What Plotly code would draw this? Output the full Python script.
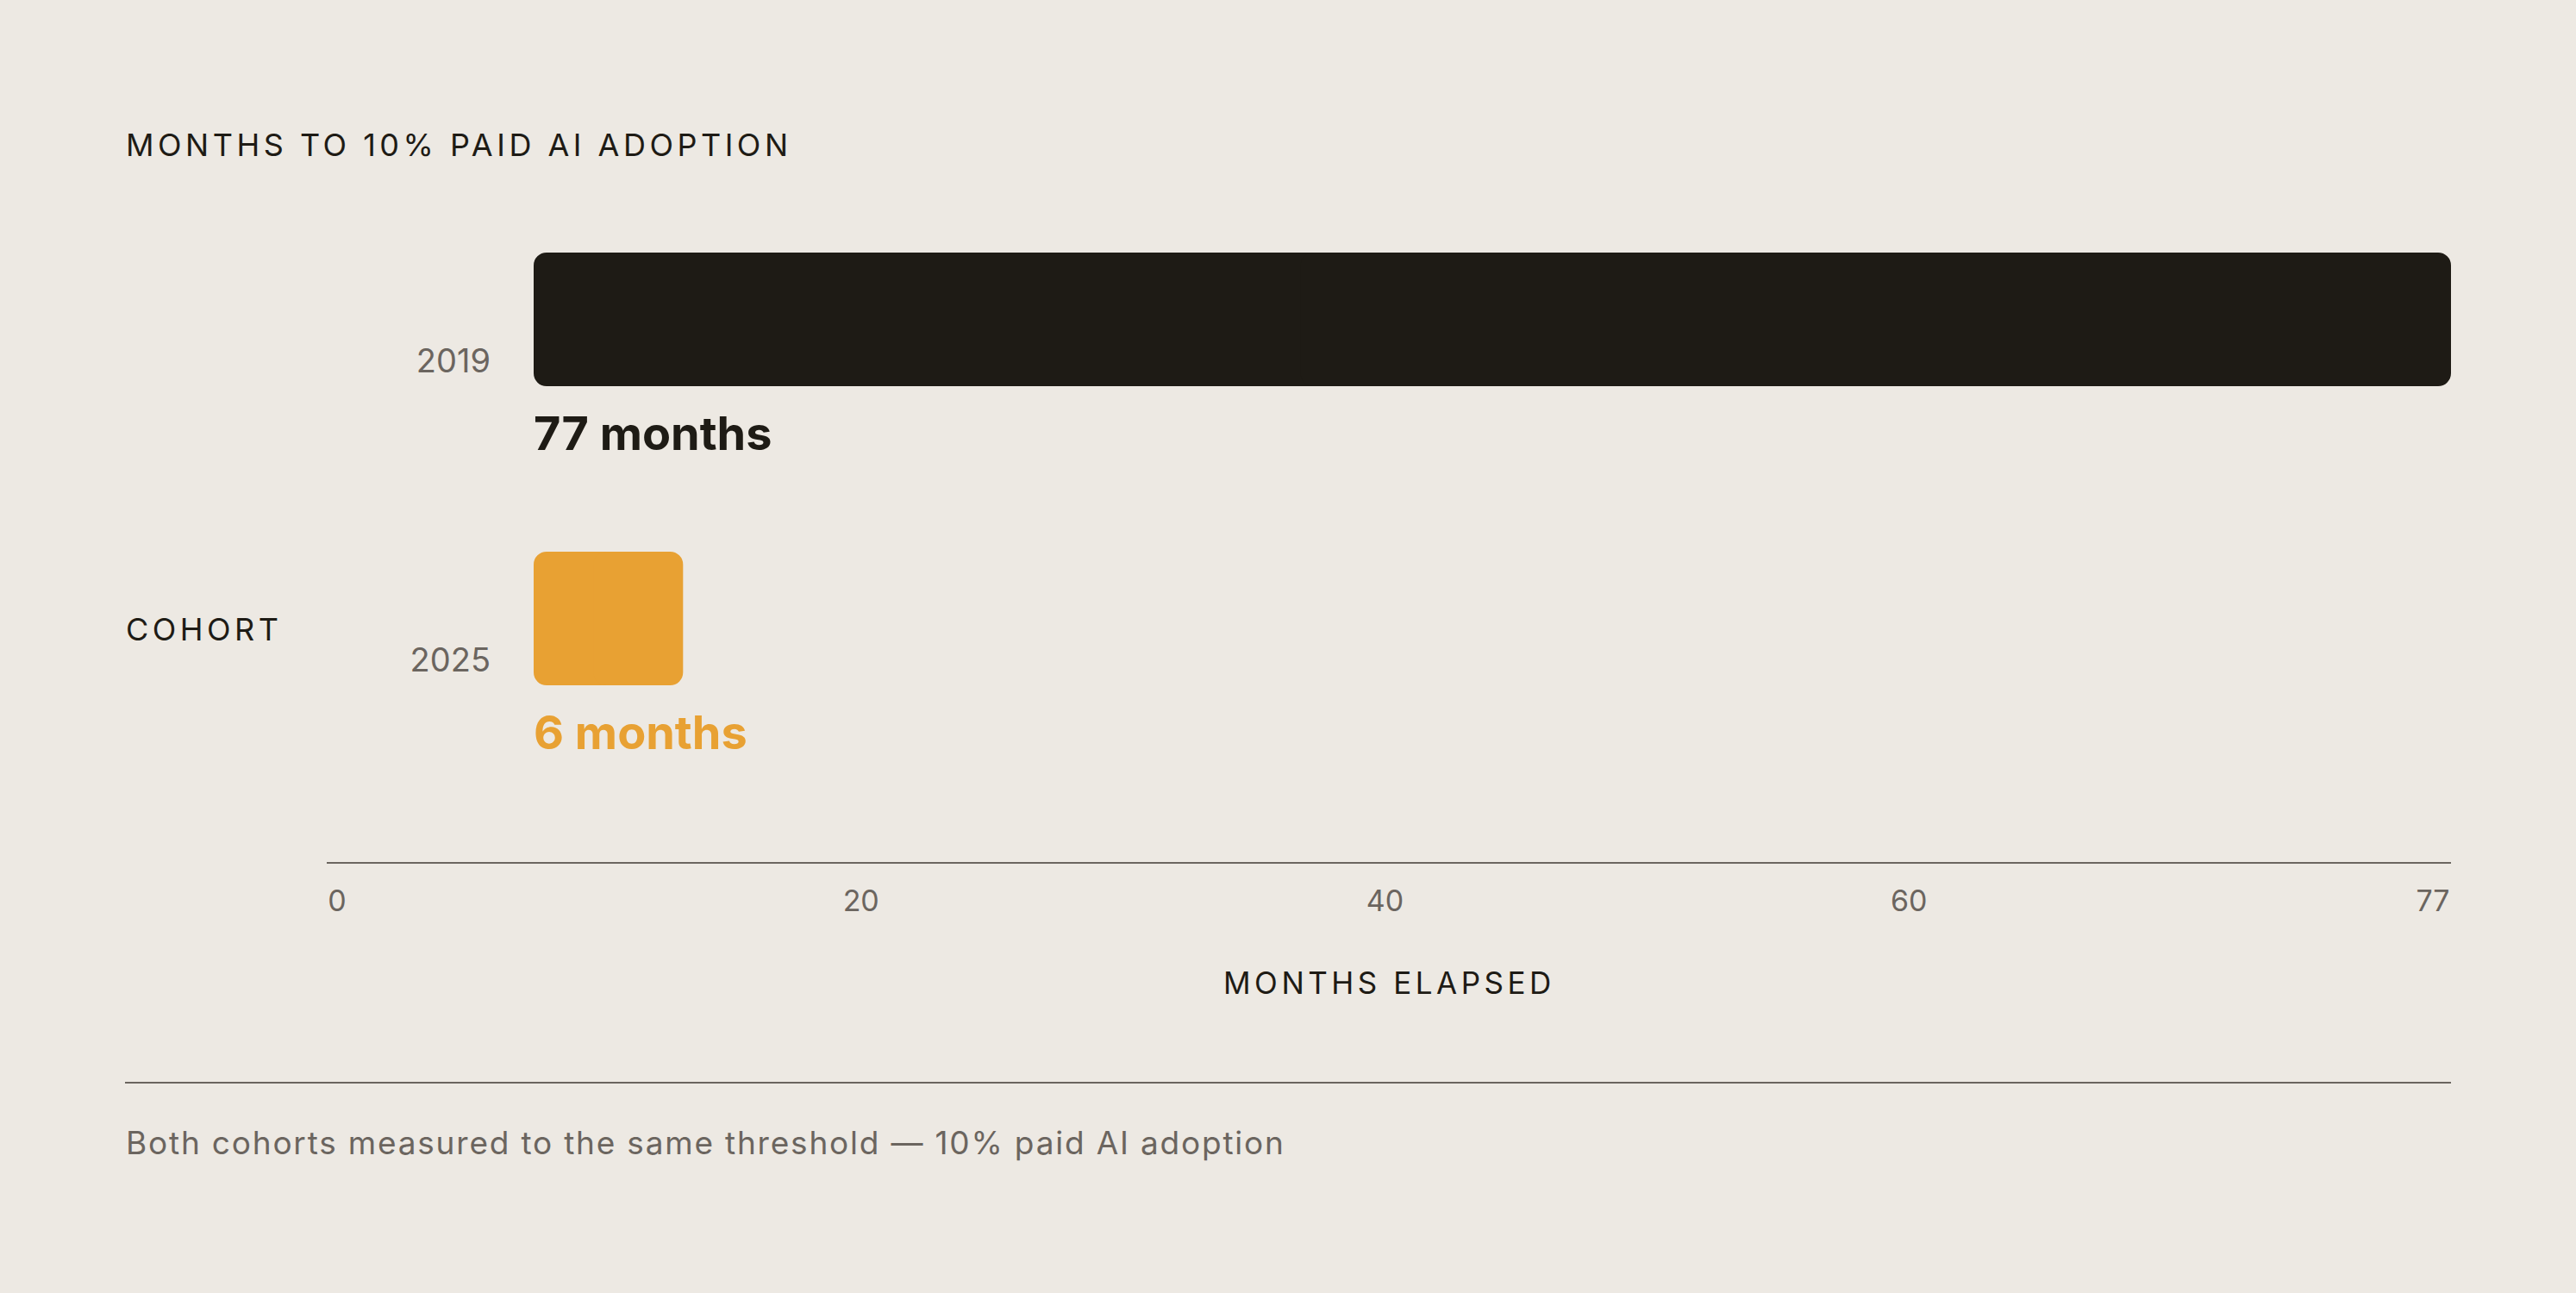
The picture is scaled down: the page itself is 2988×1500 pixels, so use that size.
import plotly.graph_objects as go

# data
cohorts = ["2019", "2025"]
months = [77, 6]
bar_colors = ["#1e1b15", "#e8a133"]
axis_ticks = ["0", "20", "40", "60", "77"]

title_text = "MONTHS TO 10% PAID AI ADOPTION"
y_title = "COHORT"
x_title = "MONTHS ELAPSED"
footnote = "Both cohorts measured to the same threshold \u2014 10% paid AI adoption"

W, H = 2988, 1500
BG = "#ede9e3"
INK = "#1e1b15"
GREY = "#6b655f"
FONT = "Inter, 'DejaVu Sans', sans-serif"


def px_x(p):
    return p / W


def px_y(p):
    return 1 - p / H


def spaced(text, ls):
    return f'<span style="letter-spacing:{ls}px">{text}</span>'


fig = go.Figure()

# each bar is drawn as two overlapping halves so both ends get rounded corners
left_part = [m * 0.6 for m in months]
right_part = [m * 0.4 for m in months]
fig.add_trace(go.Bar(
    x=[-v for v in left_part], base=left_part, y=cohorts,
    orientation="h", width=0.447,
    marker=dict(color=bar_colors, cornerradius=15, line=dict(width=0)),
    hoverinfo="skip", showlegend=False,
))
fig.add_trace(go.Bar(
    x=[m - r for m, r in zip(months, right_part)], base=right_part, y=cohorts,
    orientation="h", width=0.447,
    marker=dict(color=bar_colors, cornerradius=15, line=dict(width=0)),
    hoverinfo="skip", showlegend=False,
))

# value labels under each bar (category axis -> annotate by index)
for i, (m, col) in enumerate(zip(months, bar_colors)):
    fig.add_annotation(
        x=0, y=i, xref="x", yref="y",
        text=f"<b>{m} months</b>",
        showarrow=False, xanchor="left", yanchor="middle",
        yshift=-132, xshift=-2,
        font=dict(family=FONT, size=54, color=col),
    )

# scale labels are spread evenly along the axis line
tick_pos = list(range(len(axis_ticks)))
fig.add_trace(go.Scatter(
    x=tick_pos, y=[0] * len(tick_pos), xaxis="x2", yaxis="y2",
    mode="markers", marker=dict(opacity=0), hoverinfo="skip", showlegend=False,
))

fig.update_layout(
    width=W, height=H,
    margin=dict(l=0, r=0, t=0, b=0),
    paper_bgcolor=BG, plot_bgcolor="rgba(0,0,0,0)",
    font=dict(family=FONT, color=GREY),
    barmode="overlay",
    xaxis=dict(
        domain=[px_x(619), px_x(2843)], range=[0, 77],
        showgrid=False, zeroline=False, showline=False, showticklabels=False,
        fixedrange=True,
    ),
    yaxis=dict(
        domain=[px_y(1000), px_y(197)], range=[1.814, -0.5],
        type="category",
        showgrid=False, zeroline=False, showline=False,
        tickfont=dict(family=FONT, size=38, color=GREY),
        ticklabelstandoff=49, ticklabelshift=-48,
        fixedrange=True,
    ),
    xaxis2=dict(
        domain=[px_x(379), px_x(2843)], range=[-0.0197, 4.0346],
        anchor="y2",
        tickvals=tick_pos, ticktext=axis_ticks,
        tickfont=dict(family=FONT, size=34, color=GREY),
        showgrid=False, zeroline=False,
        showline=True, linecolor=GREY, linewidth=2,
        ticks="", ticklabelstandoff=14,
        fixedrange=True,
    ),
    yaxis2=dict(
        domain=[px_y(1000), px_y(996)], range=[0, 1],
        anchor="x2",
        visible=False, fixedrange=True,
    ),
)

# title, axis names, footnote
fig.add_annotation(
    x=px_x(144), y=px_y(168), xref="paper", yref="paper",
    text=spaced(title_text, 4.5), showarrow=False,
    xanchor="left", yanchor="middle",
    font=dict(family=FONT, size=36, color=INK),
)
fig.add_annotation(
    x=px_x(144), y=px_y(730), xref="paper", yref="paper",
    text=spaced(y_title, 4.5), showarrow=False,
    xanchor="left", yanchor="middle",
    font=dict(family=FONT, size=36, color=INK),
)
fig.add_annotation(
    x=px_x(1611), y=px_y(1140), xref="paper", yref="paper",
    text=spaced(x_title, 4.5), showarrow=False,
    xanchor="center", yanchor="middle",
    font=dict(family=FONT, size=35, color=INK),
)
fig.add_annotation(
    x=px_x(144), y=px_y(1325), xref="paper", yref="paper",
    text=spaced(footnote, 1.8), showarrow=False,
    xanchor="left", yanchor="middle",
    font=dict(family=FONT, size=37, color=GREY),
)

# divider above the footnote
fig.add_shape(
    type="line", xref="paper", yref="paper",
    x0=px_x(145), x1=px_x(2843), y0=px_y(1256), y1=px_y(1256),
    line=dict(color=GREY, width=2),
)

fig.write_html(
    "out.html",
    config={"displayModeBar": False},
    post_script="document.body.style.margin='0';document.body.style.overflow='hidden';",
)
